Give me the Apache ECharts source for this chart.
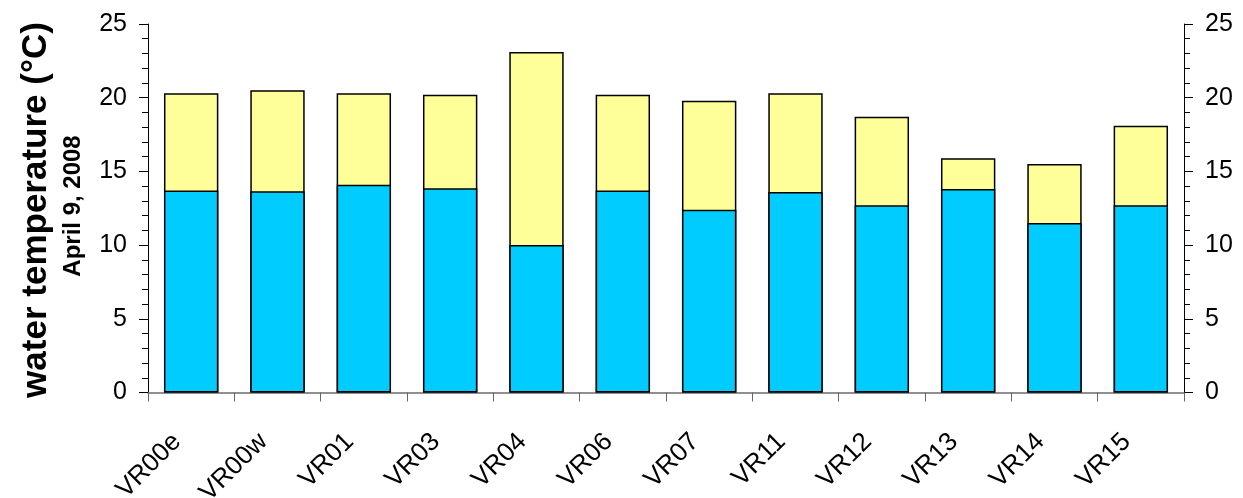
<!DOCTYPE html>
<html>
<head>
<meta charset="utf-8">
<script src="https://cdn.jsdelivr.net/npm/echarts@6/dist/echarts.min.js"></script>
<style>
  html, body { margin: 0; padding: 0; background: #fff; }
  #chart { width: 1243px; height: 498px; }
</style>
</head>
<body>
<div id="chart"></div>
<script>
// sampling sites along the river
var sites = ['VR00e', 'VR00w', 'VR01', 'VR03', 'VR04', 'VR06', 'VR07', 'VR11', 'VR12', 'VR13', 'VR14', 'VR15'];
// daily max / min water temperature, April 9, 2008 (deg C)
var maxTemp = [20.3, 20.5, 20.3, 20.2, 23.1, 20.2, 19.8, 20.3, 18.7, 15.9, 15.5, 18.1];
var minTemp = [13.7, 13.65, 14.1, 13.85, 10.0, 13.7, 12.4, 13.6, 12.7, 13.8, 11.5, 12.7];
var yTicks = { min: 0, max: 25, interval: 5 };

var font = 'Liberation Sans, Arial, Helvetica, sans-serif';
var chart = echarts.init(document.getElementById('chart'));

function valueAxis(pos) {
  return {
    type: 'value',
    position: pos,
    min: yTicks.min,
    max: yTicks.max,
    interval: yTicks.interval,
    axisLine: { show: true, lineStyle: { color: '#000', width: 1 } },
    axisTick: { show: true, inside: false, length: 9, lineStyle: { color: '#000' } },
    minorTick: { show: true, splitNumber: 5, length: 6, lineStyle: { color: '#000' } },
    splitLine: { show: false },
    axisLabel: { color: '#000', fontSize: 25, fontFamily: font, margin: 21 }
  };
}

var option = {
  animation: false,
  backgroundColor: '#fff',
  grid: { left: 148, right: 59, top: 24, bottom: 105.5, outerBoundsMode: 'none', containLabel: false },
  xAxis: [{
    type: 'category',
    data: sites,
    position: 'bottom',
    axisLine: { lineStyle: { color: '#888', width: 1.5 } },
    axisTick: { show: true, interval: 0, length: 9, lineStyle: { color: '#666' } },
    axisLabel: {
      interval: 0,
      rotate: 45,
      color: '#000',
      fontSize: 26,
      fontFamily: font,
      margin: 31,
      padding: [0, 20, 0, 0]
    }
  }, {
    type: 'category',
    data: sites,
    position: 'top',
    axisLine: { show: true, lineStyle: { color: '#888', width: 1.5 } },
    axisTick: { show: false },
    axisLabel: { show: false }
  }],
  yAxis: [valueAxis('left'), valueAxis('right')],
  series: [{
    name: 'max',
    type: 'bar',
    data: maxTemp,
    barWidth: '63%',
    barGap: '-100%',
    itemStyle: { color: '#FFFF99', borderColor: '#000', borderWidth: 1.5 }
  }, {
    name: 'min',
    type: 'bar',
    data: minTemp,
    barWidth: '63%',
    barGap: '-100%',
    itemStyle: { color: '#00CCFF', borderColor: '#000', borderWidth: 1.5 }
  }],
  graphic: [{
    type: 'text',
    x: 36,
    y: 210,
    rotation: Math.PI / 2,
    style: {
      text: 'water temperature (°C)',
      font: 'bold 35px ' + font,
      fill: '#000',
      align: 'center',
      verticalAlign: 'middle'
    }
  }, {
    type: 'text',
    x: 73,
    y: 206,
    rotation: Math.PI / 2,
    style: {
      text: 'April 9, 2008',
      font: 'bold 24px ' + font,
      fill: '#000',
      align: 'center',
      verticalAlign: 'middle'
    }
  }]
};

chart.setOption(option);
</script>
</body>
</html>
